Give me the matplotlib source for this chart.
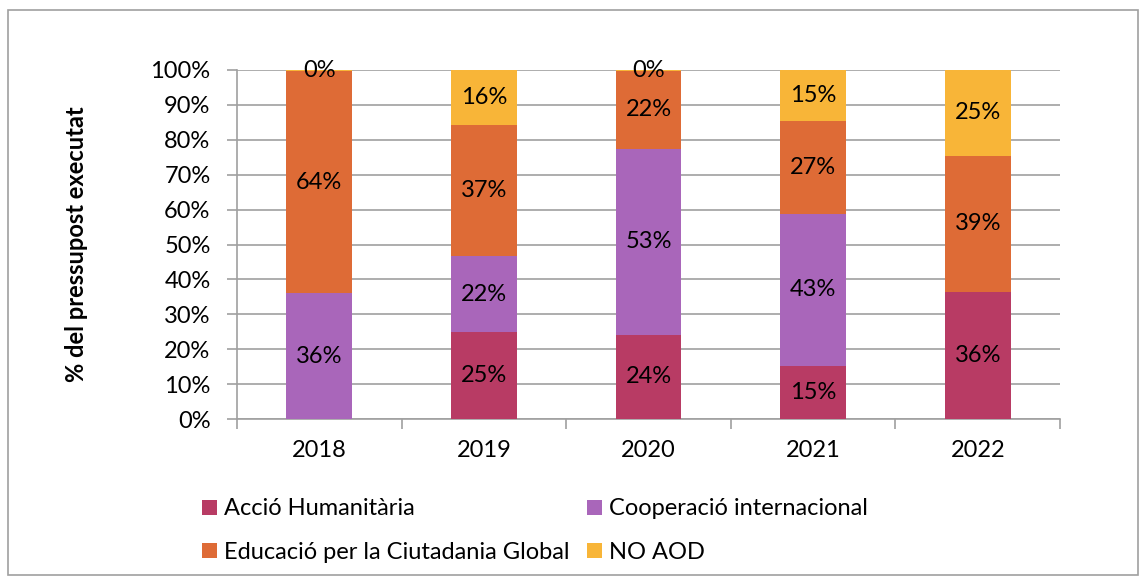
import matplotlib
matplotlib.use("Agg")
import matplotlib.pyplot as plt
from matplotlib.patches import Rectangle
import numpy as np

years = ["2018", "2019", "2020", "2021", "2022"]
series_names = ["Acció Humanitària", "Cooperació internacional",
                "Educació per la Ciutadania Global", "NO AOD"]
accio_humanitaria = [0.0, 24.9, 24.2, 15.3, 36.4]
cooperacio_internacional = [36.0, 21.8, 53.3, 43.4, 0.0]
educacio_ciutadania = [63.7, 37.4, 22.1, 26.7, 39.0]
no_aod = [0.3, 15.9, 0.4, 14.6, 24.6]
colors = ["#B83B64", "#A966BA", "#DE6B36", "#F8B538"]
yticks = [0, 10, 20, 30, 40, 50, 60, 70, 80, 90, 100]

plt.rcParams['font.family'] = ['Lato', 'DejaVu Sans']
FS = 17

fig = plt.figure(figsize=(11.46, 5.83), dpi=100)
ax = fig.add_axes([237/1146, 1-419/583, (1060-237)/1146, (419-70)/583])

data = [accio_humanitaria, cooperacio_internacional, educacio_ciutadania, no_aod]
x = np.arange(len(years))
bottom = np.zeros(len(years))
handles = []
for name, vals, c in zip(series_names, data, colors):
    vals = np.array(vals)
    h = ax.bar(x, vals, 0.4, bottom=bottom, color=c, label=name, zorder=3)
    handles.append(h)
    for xi, b, v in zip(x, bottom, vals):
        if v > 0:
            ax.text(xi, b + v/2, f"{round(v):.0f}%", ha="center", va="center",
                    fontsize=FS, color="black", zorder=4)
    bottom += vals

ax.set_xlim(-0.5, len(years)-0.5)
ax.set_ylim(0, 100)
ax.set_yticks(yticks)
ax.set_yticklabels([f"{t}%" for t in yticks], fontsize=FS)
ax.yaxis.grid(True, color="#A0A0A0", linewidth=1.2, zorder=0)
ax.set_xticks(x)
ax.set_xticklabels(years, fontsize=FS)
ax.tick_params(axis="x", length=0, pad=15)
ax.set_xticks(np.arange(len(years)+1) - 0.5, minor=True)
ax.tick_params(axis="x", which="minor", length=7, color="#A0A0A0", width=1.2)
ax.tick_params(axis="y", length=7, color="#A0A0A0", width=1.2, pad=12)
for s in ["top", "right"]:
    ax.spines[s].set_visible(False)
for s in ["left", "bottom"]:
    ax.spines[s].set_color("#A0A0A0")
    ax.spines[s].set_linewidth(1.2)

ax.set_ylabel("% del pressupost executat", fontsize=FS, fontweight="bold")
ax.yaxis.set_label_coords((88-237)/823, 0.5)

legkw = dict(loc="upper left", frameon=False, fontsize=FS, handlelength=0.6,
             handleheight=0.6, handletextpad=0.3, labelspacing=0.95, borderaxespad=0)
leg1 = fig.legend([handles[0], handles[2]], [series_names[0], series_names[2]],
                  bbox_to_anchor=(193/1146, 1-489/583), **legkw)
leg2 = fig.legend([handles[1], handles[3]], [series_names[1], series_names[3]],
                  bbox_to_anchor=(578/1146, 1-489/583), **legkw)

fig.patches.append(Rectangle((8/1146, 8/583), 1130/1146, 565/583, transform=fig.transFigure,
                             fill=False, edgecolor="#A0A0A0", linewidth=1.2))

fig.savefig("out.png", dpi=100)
